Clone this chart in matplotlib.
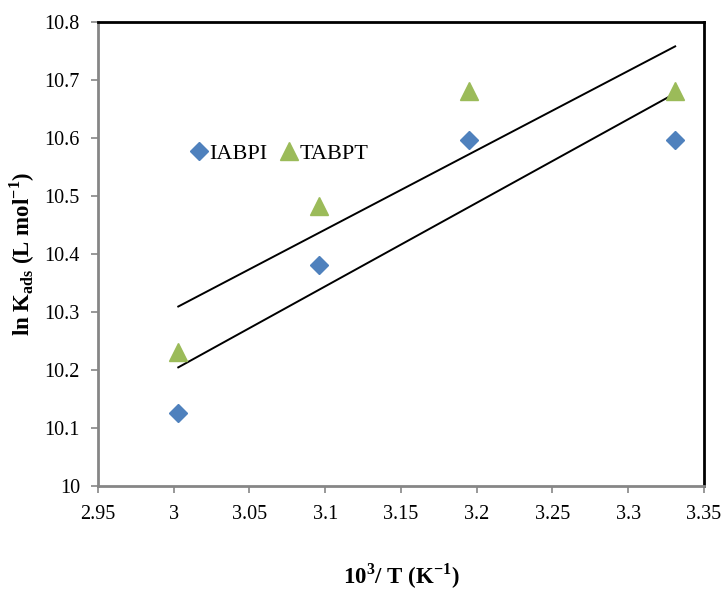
import matplotlib
matplotlib.use("Agg")
import matplotlib.pyplot as plt
import numpy as np

# inverse temperature (10^3/T) and ln K_ads values
inv_T = [3.003, 3.096, 3.195, 3.331]
iabpi = [10.126, 10.381, 10.597, 10.597]
tabpt = [10.231, 10.483, 10.681, 10.681]

x_ticks = [2.95, 3.0, 3.05, 3.1, 3.15, 3.2, 3.25, 3.3, 3.35]
y_ticks = [10.0, 10.1, 10.2, 10.3, 10.4, 10.5, 10.6, 10.7, 10.8]

plt.rcParams['font.family'] = "serif"
plt.rcParams['font.serif'] = ["Liberation Serif"]
plt.rcParams['mathtext.fontset'] = "custom"
plt.rcParams['mathtext.rm'] = "Liberation Serif"
plt.rcParams['mathtext.bf'] = "Liberation Serif:bold"

fig = plt.figure(figsize=(7.22, 5.94), dpi=100)
fig.subplots_adjust(left=0.1357, right=0.975, top=0.963, bottom=0.1818)
ax = fig.add_subplot(1, 1, 1)

ax.plot(inv_T, iabpi, ls="none", marker="D", ms=9.5, color="#4F81BD",
        label="IABPI")
ax.plot(inv_T, tabpt, ls="none", marker="^", ms=13.5, color="#9BBB59",
        label="TABPT")

# linear trend lines
x = np.array(inv_T)
for y in [iabpi, tabpt]:
    m, c = np.polyfit(x, y, 1)
    ax.plot([x[0], x[-1]], [m * x[0] + c, m * x[-1] + c], color="black",
            lw=1.4, zorder=1)

ax.set_xlim(2.95, 3.35)
ax.set_ylim(10.0, 10.8)
ax.set_xticks(x_ticks)
ax.set_xticklabels(["%g" % v for v in x_ticks])
ax.set_yticks(y_ticks)
ax.set_yticklabels(["%g" % v for v in y_ticks])
ax.tick_params(direction="out", length=5, width=1.2, color="#868686",
               labelsize=14.5)
ax.tick_params(axis="y", pad=8)
ax.tick_params(axis="x", pad=9)

for s in ["left", "bottom"]:
    ax.spines[s].set_color("#868686")
    ax.spines[s].set_linewidth(2)
for s in ["top", "right"]:
    ax.spines[s].set_color("black")
    ax.spines[s].set_linewidth(2)

ax.set_xlabel(r"10$^{\mathbf{3}}$/ T (K$^{\mathbf{-1}}$)", fontsize=16.5,
              fontweight="bold")
ax.set_ylabel(r"ln K$_{\mathbf{ads}}$ (L mol$^{\mathbf{-1}}$)", fontsize=16.5,
              fontweight="bold")
ax.xaxis.set_label_coords(0.5, -0.163)
ax.yaxis.set_label_coords(-0.1, 0.5)

ax.legend(ncol=2, frameon=False, loc="center left",
          bbox_to_anchor=(0.141, 0.717), fontsize=16, handlelength=0.6,
          handletextpad=0.15, columnspacing=0.7, borderaxespad=0)

fig.savefig("out.png", dpi=100)
